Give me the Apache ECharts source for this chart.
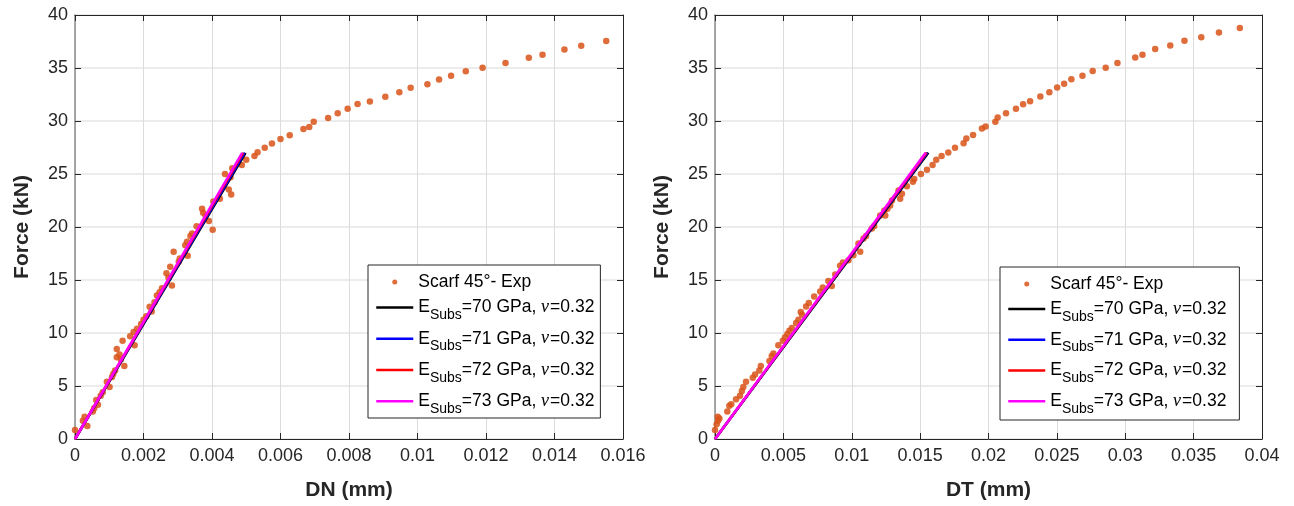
<!DOCTYPE html>
<html>
<head>
<meta charset="utf-8">
<script src="https://cdn.jsdelivr.net/npm/echarts@6/dist/echarts.min.js"></script>
<style>
html,body{margin:0;padding:0;background:#fff;}
#c{width:1294px;height:506px;}
</style>
</head>
<body>
<div id="c"></div>
<script>
// ---------- data ----------
const expName = 'Scarf 45°- Exp';
const moduli = [70, 71, 72, 73];
const nuValue = '0.32';
const lineColors = ['#000000', '#0000ff', '#ff0000', '#ff00ff'];
const lineForceEnd = 27;

// Left chart: DN (mm)
const dnExpX = [0,0.00023,0.00028,0.00036,0.00052,0.00056,0.00062,0.00067,0.00075,0.00081,0.00093,0.00101,0.00108,0.00112,0.00117,0.00122,0.00122,0.00130,0.00134,0.00139,0.00144,0.00161,0.00171,0.00174,0.00181,0.00193,0.00200,0.00208,0.00218,0.00224,0.00232,0.00239,0.00247,0.00254,0.00267,0.00273,0.00278,0.00283,0.00288,0.00303,0.00306,0.00322,0.00327,0.00329,0.00337,0.00342,0.00355,0.00371,0.00374,0.00381,0.00391,0.00402,0.00404,0.00423,0.00438,0.00449,0.00456,0.00454,0.00459,0.00487,0.00500,0.00524,0.00533,0.00554,0.00575,0.00600,0.00627,0.00667,0.00684,0.00697,0.00739,0.00767,0.00796,0.00825,0.00861,0.00906,0.00947,0.00980,0.01029,0.01063,0.01098,0.01141,0.01190,0.01257,0.01325,0.01365,0.01429,0.01478,0.01551];
const dnExpY = [0.84,1.72,2.10,1.22,2.60,2.91,3.69,3.22,4.07,4.41,5.41,4.91,5.85,6.16,6.47,8.50,7.72,7.97,7.50,9.28,6.88,9.69,10.10,8.85,10.41,10.85,11.25,11.57,12.47,12.04,12.91,13.54,13.85,14.22,15.63,15.22,16.26,14.47,17.66,16.72,17.03,18.28,18.60,17.29,19.16,19.38,20.06,21.72,21.35,21.09,20.57,19.75,22.41,22.66,25.00,23.53,23.06,24.69,25.54,25.85,26.35,26.70,27.05,27.47,27.88,28.31,28.66,29.25,29.43,29.94,30.28,30.72,31.16,31.60,31.85,32.29,32.72,33.13,33.47,33.91,34.26,34.69,35.03,35.47,35.97,36.25,36.75,37.10,37.54];
const dnLineEnd = [0.00498, 0.00495, 0.00491, 0.00488];
const dnTicks = {min: 0, max: 0.016, interval: 0.002};

// Right chart: DT (mm)
const dtExpX = [0,0.00012,0.00022,0.00020,0.00032,0.00090,0.00105,0.00119,0.00154,0.00183,0.00196,0.00207,0.00227,0.00276,0.00293,0.00324,0.00335,0.00398,0.00415,0.00427,0.00463,0.00496,0.00512,0.00529,0.00544,0.00562,0.00593,0.00610,0.00627,0.00637,0.00666,0.00686,0.00725,0.00769,0.00788,0.00829,0.00854,0.00879,0.00915,0.00935,0.00976,0.01012,0.01049,0.01062,0.01086,0.01105,0.01147,0.01164,0.01208,0.01245,0.01239,0.01261,0.01281,0.01294,0.01342,0.01354,0.01367,0.01403,0.01447,0.01457,0.01506,0.01550,0.01591,0.01618,0.01657,0.01706,0.01755,0.01818,0.01838,0.01887,0.01952,0.01979,0.02050,0.02067,0.02128,0.02201,0.02253,0.02304,0.02379,0.02445,0.02502,0.02553,0.02606,0.02687,0.02762,0.02857,0.02943,0.03073,0.03126,0.03219,0.03329,0.03433,0.03556,0.03685,0.03838];
const dtExpY = [0.84,1.38,1.72,2.10,1.94,2.60,3.13,3.28,3.75,4.07,4.54,4.91,5.41,5.78,6.09,6.47,6.88,7.35,7.82,8.06,8.85,9.28,9.60,9.91,10.22,10.47,10.94,11.25,11.97,11.72,12.51,12.82,13.44,13.91,14.29,14.91,14.44,15.53,16.35,16.66,16.87,17.34,18.44,17.66,18.91,19.16,19.85,20.10,21.09,21.09,21.56,21.72,22.03,22.50,23.44,22.66,23.13,23.85,24.28,24.53,25.00,25.41,25.85,26.34,26.69,27.04,27.47,27.91,28.35,28.69,29.29,29.47,29.94,30.32,30.72,31.16,31.59,31.87,32.31,32.72,33.16,33.51,33.94,34.28,34.72,35.03,35.47,36.00,36.25,36.79,37.12,37.56,37.91,38.34,38.78];
const dtLineEnd = [0.01560, 0.01553, 0.01547, 0.01540];
const dtTicks = {min: 0, max: 0.04, interval: 0.005};

const forceTicks = {min: 0, max: 40, interval: 5};

// ---------- chart ----------
const FONT = 'Liberation Sans, Arial, Helvetica, sans-serif';
const lineNames = moduli.map(m => 'E_Subs=' + m + ' GPa, nu=' + nuValue);

function legendLabel(name) {
  if (name === expName) return '{p|' + expName + '}';
  const m = name.match(/=(\d+) GPa/)[1];
  return '{e|E}{s|Subs}{t|=' + m + ' GPa, }{n|ν}{t|=' + nuValue + '}';
}

const rich = {
  p: {fontSize: 17.5, fontFamily: FONT, color: '#000', verticalAlign: 'middle'},
  e: {fontSize: 17.5, fontFamily: FONT, color: '#000', lineHeight: 29.5, verticalAlign: 'middle'},
  s: {fontSize: 14, fontFamily: FONT, color: '#000', verticalAlign: 'bottom'},
  t: {fontSize: 17.5, fontFamily: FONT, color: '#000', verticalAlign: 'middle'},
  n: {fontSize: 18, fontFamily: 'Liberation Serif, DejaVu Serif, serif', fontStyle: 'italic', color: '#000', verticalAlign: 'middle', padding: [0, 1, 0, 0]}
};

function makeLegend(left, top, padding, gap) {
  return {
    left: left, top: top, orient: 'vertical',
    itemWidth: 37, itemHeight: 5, itemGap: gap,
    padding: padding,
    borderColor: '#262626', borderWidth: 1, backgroundColor: '#fff',
    selectedMode: false,
    formatter: legendLabel,
    textStyle: {rich: rich},
    data: [{name: expName, icon: 'circle'}].concat(lineNames.map(n => ({
      name: n, itemStyle: {opacity: 0}, lineStyle: {width: 2.5}
    })))
  };
}

function mainX(gi, ticks, name) {
  return {
    type: 'value', gridIndex: gi, position: 'bottom',
    min: ticks.min, max: ticks.max, interval: ticks.interval,
    name: name, nameLocation: 'middle', nameGap: 41,
    nameTextStyle: {fontSize: 21, fontWeight: 'bold', color: '#262626', fontFamily: FONT},
    axisLine: {show: true, onZero: false, lineStyle: {color: '#262626', width: 1}},
    axisTick: {show: true, inside: true, length: 6, lineStyle: {color: '#262626'}},
    axisLabel: {fontSize: 18, color: '#262626', fontFamily: FONT, margin: 8},
    splitLine: {show: true, lineStyle: {color: '#dcdcdc', width: 1}}
  };
}
function topX(gi, ticks) {
  return {
    type: 'value', gridIndex: gi, position: 'top',
    min: ticks.min, max: ticks.max, interval: ticks.interval,
    axisLine: {show: true, onZero: false, lineStyle: {color: '#262626', width: 1}},
    axisTick: {show: true, inside: true, length: 6, lineStyle: {color: '#262626'}},
    axisLabel: {show: false}, splitLine: {show: false}
  };
}
function mainY(gi) {
  return {
    type: 'value', gridIndex: gi, position: 'left',
    min: forceTicks.min, max: forceTicks.max, interval: forceTicks.interval,
    name: 'Force (kN)', nameLocation: 'middle', nameGap: 42,
    nameTextStyle: {fontSize: 21, fontWeight: 'bold', color: '#262626', fontFamily: FONT},
    axisLine: {show: true, onZero: false, lineStyle: {color: '#8c8c8c', width: 1.5}},
    axisTick: {show: true, inside: true, length: 6, lineStyle: {color: '#262626'}},
    axisLabel: {fontSize: 18, color: '#262626', fontFamily: FONT, margin: 7},
    splitLine: {show: true, lineStyle: {color: '#e6e6e6', width: 1.5}}
  };
}
function rightY(gi) {
  return {
    type: 'value', gridIndex: gi, position: 'right',
    min: forceTicks.min, max: forceTicks.max, interval: forceTicks.interval,
    axisLine: {show: true, onZero: false, lineStyle: {color: '#262626', width: 1}},
    axisTick: {show: true, inside: true, length: 6, lineStyle: {color: '#262626'}},
    axisLabel: {show: false}, splitLine: {show: false}
  };
}

function expSeries(xi, yi, xs, ys) {
  return {
    type: 'scatter', name: expName, xAxisIndex: xi, yAxisIndex: yi,
    symbol: 'circle', symbolSize: 6.5, z: 2,
    itemStyle: {color: '#D95319', opacity: 0.85},
    data: xs.map((x, i) => [x, ys[i]]),
    silent: true
  };
}
function lineSeries(xi, yi, ends) {
  return moduli.map((m, i) => ({
    type: 'line', name: lineNames[i], xAxisIndex: xi, yAxisIndex: yi,
    symbol: 'none', z: 3 + i, silent: true, animation: false,
    lineStyle: {color: lineColors[i], width: 2.5},
    itemStyle: {color: lineColors[i]},
    data: [[0, 0], [ends[i], lineForceEnd]]
  }));
}

const chart = echarts.init(document.getElementById('c'), null, {renderer: 'canvas'});
chart.setOption({
  animation: false,
  backgroundColor: '#fff',
  grid: [
    {left: 75, top: 15, width: 548, height: 427, containLabel: false},
    {left: 715, top: 15, width: 547, height: 427, containLabel: false}
  ],
  xAxis: [mainX(0, dnTicks, 'DN (mm)'), topX(0, dnTicks), mainX(1, dtTicks, 'DT (mm)'), topX(1, dtTicks)],
  yAxis: [mainY(0), rightY(0), mainY(1), rightY(1)],
  legend: [makeLegend(368, 265, [8, 6, 2, 7], 7.5), makeLegend(1000, 267, [8, 13, 4, 7], 7)],
  series: [expSeries(0, 0, dnExpX, dnExpY)].concat(lineSeries(0, 0, dnLineEnd))
    .concat([expSeries(2, 2, dtExpX, dtExpY)]).concat(lineSeries(2, 2, dtLineEnd))
});
</script>
</body>
</html>
